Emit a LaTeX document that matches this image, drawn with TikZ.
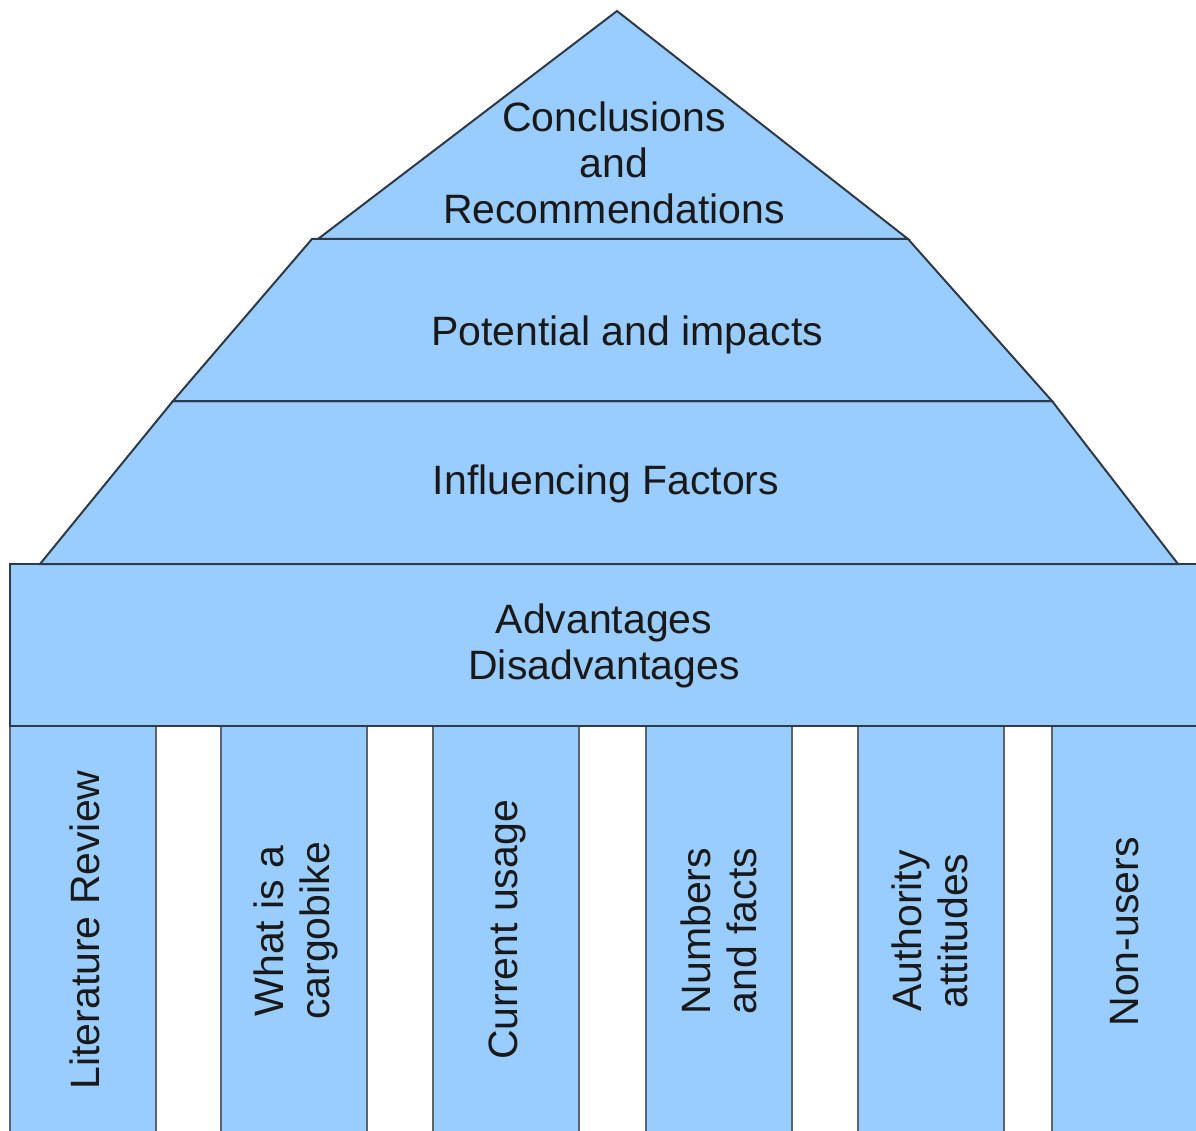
\documentclass[tikz,border=0pt]{standalone}
\usepackage{fontspec}
\setmainfont{Liberation Sans}
\definecolor{pfill}{HTML}{99CCFF}
\definecolor{pline}{HTML}{2E3A48}
\definecolor{cline}{HTML}{5A6470}
\begin{document}
\begin{tikzpicture}[x=1pt,y=-1pt,
  part/.style={fill=pfill,draw=pline,line width=2pt,line join=miter},
  pillar/.style={fill=pfill,draw=cline,line width=2pt},
  lbl/.style={font=\fontsize{41}{46}\selectfont,align=center,inner sep=0pt,text=black!90}]
\useasboundingbox (0,0) rectangle (1196,1131);
\clip (0,0) rectangle (1196,1131);
% columns
\foreach \x in {10,221,433,646,858,1052}{
  \draw[pillar] (\x,726) rectangle ++(146,420);
}
% base block
\draw[part] (10,564) rectangle (1210,726);
% influencing factors
\draw[part] (173,401) -- (1052,401) -- (1178,564) -- (40,564) -- cycle;
% potential and impacts
\draw[part] (312,239) -- (908,239) -- (1052,401) -- (173,401) -- cycle;
% conclusions triangle
\draw[part] (617,11) -- (908,239) -- (318,239) -- cycle;
% labels
\node[lbl] (concl) at (614,163) {Conclusions\\and\\Recommendations};
\node[lbl] (pot) at (627,335) {Potential and impacts};
\node[lbl] (infl) at (606,484) {Influencing Factors};
\node[lbl] (adv) at (604,646) {Advantages\\Disadvantages};
\node[lbl,rotate=90] (c1) at (85,930) {Literature Review};
\node[lbl,rotate=90] (c2) at (296,931) {What is a\\cargobike};
\node[lbl,rotate=90] (c3) at (507,930) {Current usage};
\node[lbl,rotate=90] (c4) at (719,931) {Numbers\\and facts};
\node[lbl,rotate=90] (c5) at (930,931) {Authority\\attitudes};
\node[lbl,rotate=90] (c6) at (1125,932) {Non-users};
\end{tikzpicture}
\end{document}
